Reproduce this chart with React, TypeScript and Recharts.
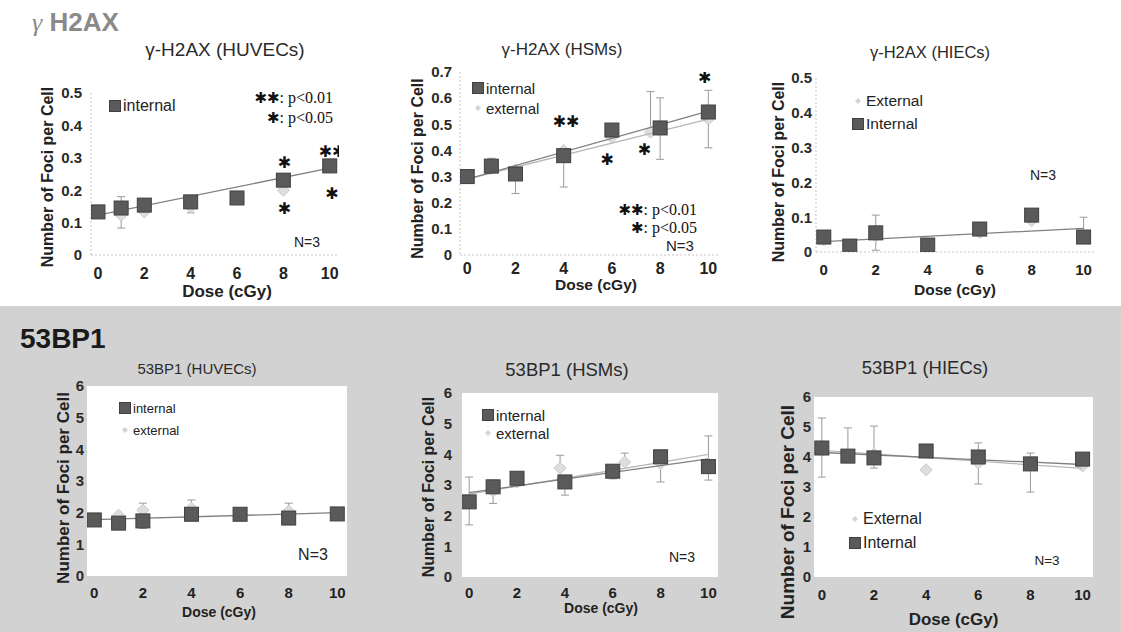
import React from 'react';
import { ComposedChart, Scatter, XAxis, YAxis, ErrorBar, Legend, CartesianGrid } from 'recharts';

const FONT = '"Liberation Sans", Arial, sans-serif';
const SERIF = '"Liberation Serif", "Times New Roman", serif';

type Err = [number, number] | null;
type Row = { dose: number; value: number; err?: [number, number]; mark?: string };

// shared x values
const doses = [0, 1, 2, 4, 6, 8, 10];
const doseTicks = [0, 2, 4, 6, 8, 10];
const trendDoses = [0, 10];
const doseDomain: [number, number] = [-0.3, 10.4];

// γ-H2AX HUVECs
const h2axHuvecInternal = [0.133, 0.145, 0.154, 0.164, 0.176, 0.231, 0.275];
const h2axHuvecExternal = [0.13, 0.123, 0.133, 0.148, 0.175, 0.2, 0.27];
const h2axHuvecInternalErr: Err[] = [null, [0.062, 0.035], null, [0.034, 0.015], null, null, null];
const h2axHuvecTrend = [0.123, 0.268];
const h2axHuvecStarDose = [8.05, 8.05, 10.1, 10.1];
const h2axHuvecStarY = [0.284, 0.145, 0.318, 0.19];
const h2axHuvecStarMark = ['✱', '✱', '✱✱', '✱'];

// γ-H2AX HSMs
const h2axHsmInternal = [0.3, 0.34, 0.31, 0.38, 0.478, 0.486, 0.547];
const h2axHsmExternalDose = [0, 1, 2, 4, 6, 7.6, 10];
const h2axHsmExternal = [0.3, 0.33, 0.325, 0.4, 0.45, 0.47, 0.52];
const h2axHsmInternalErr: Err[] = [null, [0, 0.03], [0.075, 0], [0.12, 0], null, [0.12, 0.115], [0.137, 0.083]];
const h2axHsmExternalErr: Err[] = [null, null, null, null, null, [0, 0.155], null];
const h2axHsmTrendInt = [0.29, 0.55];
const h2axHsmTrendExt = [0.29, 0.52];
const h2axHsmStarDose = [4.1, 5.8, 7.35, 9.85];
const h2axHsmStarY = [0.51, 0.367, 0.405, 0.68];
const h2axHsmStarMark = ['✱✱', '✱', '✱', '✱'];

// γ-H2AX HIECs
const h2axHiecInternal = [0.043, 0.017, 0.055, 0.02, 0.066, 0.106, 0.043];
const h2axHiecExternal = [0.035, 0.02, 0.045, 0.02, 0.055, 0.09, 0.04];
const h2axHiecInternalErr: Err[] = [null, null, [0.05, 0.051], null, null, null, [0, 0.057]];
const h2axHiecTrend = [0.03, 0.068];

// 53BP1 HUVECs
const bp1HuvecInternal = [1.77, 1.67, 1.74, 1.95, 1.95, 1.83, 1.96];
const bp1HuvecExternal = [1.8, 1.92, 2.08, 2.14, 1.95, 2.05, 1.96];
const bp1HuvecInternalErr: Err[] = [null, null, [0.24, 0.56], null, null, null, null];
const bp1HuvecExternalErr: Err[] = [null, null, null, [0, 0.26], null, [0, 0.25], null];
const bp1HuvecTrend = [1.78, 2.0];

// 53BP1 HSMs
const bp1HsmInternal = [2.45, 2.94, 3.22, 3.1, 3.45, 3.92, 3.6];
const bp1HsmExternalDose = [0, 1, 2, 3.8, 6.5, 8, 10];
const bp1HsmExternal = [2.5, 2.8, 3.1, 3.55, 3.75, 3.7, 3.7];
const bp1HsmInternalErr: Err[] = [[0.75, 0.81], [0.54, 0.22], null, [0.43, 0], [0.25, 0], [0.82, 0], [0.44, 1.0]];
const bp1HsmExternalErr: Err[] = [null, null, null, [0, 0.42], [0, 0.29], null, null];
const bp1HsmTrendInt = [2.75, 3.85];
const bp1HsmTrendExt = [2.7, 4.0];

// 53BP1 HIECs
const bp1HiecInternal = [4.3, 4.03, 3.97, 4.2, 4.0, 3.77, 3.93];
const bp1HiecExternal = [4.2, 4.05, 4.1, 3.57, 3.8, 3.8, 3.7];
const bp1HiecInternalErr: Err[] = [[0.97, 1.0], [0, 0.94], [0.34, 1.06], null, [0.9, 0.47], [0.94, 0.36], null];
const bp1HiecTrendInt = [4.15, 3.75];
const bp1HiecTrendExt = [4.22, 3.62];

const h2axTicks05 = [0, 0.1, 0.2, 0.3, 0.4, 0.5];
const h2axTicks07 = [0, 0.1, 0.2, 0.3, 0.4, 0.5, 0.6, 0.7];
const bp1Ticks = [0, 1, 2, 3, 4, 5, 6];

const toRows = (xs: number[], ys: number[], errs?: Err[], marks?: string[]): Row[] =>
  xs.map((dose, i) => ({
    dose,
    value: ys[i],
    err: errs && errs[i] ? (errs[i] as [number, number]) : undefined,
    mark: marks ? marks[i] : undefined,
  }));

type Spec = {
  title: string;
  titleX: number;
  titleY: number;
  titleSize: number;
  plot: { left: number; top: number; width: number; height: number };
  yMax: number;
  yTicks: number[];
  internal: Row[];
  external: Row[];
  trendInt: Row[];
  trendExt?: Row[];
  stars?: Row[];
  legend: { items: string[]; x: number; y: number; row: number; size: number };
  shaded?: boolean;
  yTickGap: number;
  yTickSize: number;
  yLabelDx: number;
  yLabelDy: number;
  yLabelSize: number;
  xTickSize: number;
  xTickDy: number;
  xLabelOffset: number;
  xLabelDx: number;
  xLabelSize: number;
  nText: { x: number; y: number; size: number };
  pLegend?: { right: number; y1: number; y2: number };
};

const SquareMark = (p: any) =>
  p.cx == null ? <g /> : (
    <rect x={p.cx - 7} y={p.cy - 7} width={14} height={14} fill="#5a5a5a" stroke="#404040" strokeWidth={1} />
  );

const DiamondMark = (p: any) =>
  p.cx == null ? <g /> : (
    <path
      d={`M${p.cx},${p.cy - 6}L${p.cx + 6},${p.cy}L${p.cx},${p.cy + 6}L${p.cx - 6},${p.cy}Z`}
      fill="#dedede"
      stroke="#c8c8c8"
      strokeWidth={1}
    />
  );

const StarMark = (p: any) =>
  p.cx == null ? <g /> : (
    <text
      x={p.cx}
      y={p.cy}
      textAnchor="middle"
      dominantBaseline="central"
      fontSize={16}
      fill="#111"
      fontFamily='"DejaVu Sans", sans-serif'
    >
      {p.payload.mark}
    </text>
  );

const NoMark = () => <g />;

function LegendBlock({ items, row, size }: { items: string[]; row: number; size: number }) {
  return (
    <div style={{ fontFamily: FONT, fontSize: size, color: '#222', lineHeight: 1 }}>
      {items.map((label) => (
        <div key={label} style={{ height: row, display: 'flex', alignItems: 'center' }}>
          <svg width={12} height={12} style={{ marginRight: 2 }}>
            {label.toLowerCase() === 'internal' ? (
              <rect x={0.5} y={0.5} width={11} height={11} fill="#5a5a5a" stroke="#404040" />
            ) : (
              <path d="M6,3L9,6L6,9L3,6Z" fill="#d4d4d4" />
            )}
          </svg>
          <span>{label}</span>
        </div>
      ))}
    </div>
  );
}

function Panel({ s }: { s: Spec }) {
  const boxLeft = s.plot.left - 70;
  const boxTop = s.plot.top - 15;
  const axisLine = s.shaded ? false : { stroke: '#c4c4c4', strokeDasharray: '2 2' };
  return (
    <div style={{ position: 'absolute', left: boxLeft, top: boxTop }}>
      <ComposedChart
        width={s.plot.width + 90}
        height={s.plot.height + 70}
        margin={{ top: 15, right: 20, bottom: 0, left: 40 }}
      >
        {s.shaded && <CartesianGrid horizontal={false} vertical={false} fill="#ffffff" stroke="none" />}
        <XAxis
          type="number"
          dataKey="dose"
          domain={doseDomain}
          ticks={doseTicks}
          allowDataOverflow
          tickLine={false}
          axisLine={axisLine}
          height={55}
          tick={{ fill: '#222', fontSize: s.xTickSize, fontWeight: 'bold', fontFamily: FONT, dy: s.xTickDy }}
          label={{
            value: 'Dose (cGy)',
            position: 'insideBottom',
            offset: s.xLabelOffset,
            dx: s.xLabelDx,
            style: { fill: '#222', fontSize: s.xLabelSize, fontWeight: 'bold', fontFamily: FONT },
          }}
        />
        <YAxis
          type="number"
          dataKey="value"
          domain={[0, s.yMax]}
          ticks={s.yTicks}
          allowDataOverflow
          tickLine={false}
          axisLine={axisLine}
          width={30}
          tickSize={s.yTickGap - 2}
          tick={{ fill: '#2a2a2a', fontSize: s.yTickSize, fontWeight: 'bold', fontFamily: FONT }}
          label={{
            value: 'Number of Foci per Cell',
            angle: -90,
            position: 'insideLeft',
            offset: s.yLabelDx + 30,
            dy: s.yLabelDy,
            style: { textAnchor: 'middle', fill: '#222', fontSize: s.yLabelSize, fontWeight: 'bold', fontFamily: FONT },
          }}
        />
        <Scatter name="external" data={s.external} shape={DiamondMark} isAnimationActive={false} legendType="none">
          <ErrorBar dataKey="err" direction="y" width={4} stroke="#9a9a9a" strokeWidth={1} />
        </Scatter>
        {s.trendExt && (
          <Scatter
            data={s.trendExt}
            line={{ stroke: '#b8b8b8', strokeWidth: 1.3 }}
            shape={NoMark}
            isAnimationActive={false}
            legendType="none"
          />
        )}
        <Scatter
          data={s.trendInt}
          line={{ stroke: '#808080', strokeWidth: 1.3 }}
          shape={NoMark}
          isAnimationActive={false}
          legendType="none"
        />
        <Scatter name="internal" data={s.internal} shape={SquareMark} isAnimationActive={false} legendType="none">
          <ErrorBar dataKey="err" direction="y" width={4} stroke="#9a9a9a" strokeWidth={1} />
        </Scatter>
        {s.stars && (
          <Scatter data={s.stars} shape={StarMark} isAnimationActive={false} legendType="none" />
        )}
        <Legend
          layout="vertical"
          align="center"
          verticalAlign="middle"
          content={() => <LegendBlock items={s.legend.items} row={s.legend.row} size={s.legend.size} />}
          wrapperStyle={{
            left: s.legend.x - 6 - boxLeft,
            top: s.legend.y - s.legend.row / 2 - boxTop,
            width: 'auto',
            height: 'auto',
          }}
        />
      </ComposedChart>
    </div>
  );
}

const specs: Spec[] = [
  {
    title: 'γ-H2AX (HUVECs)', titleX: 225, titleY: 50, titleSize: 19,
    plot: { left: 91, top: 93, width: 248, height: 162 },
    yMax: 0.5, yTicks: h2axTicks05,
    internal: toRows(doses, h2axHuvecInternal, h2axHuvecInternalErr),
    external: toRows(doses, h2axHuvecExternal),
    trendInt: toRows(trendDoses, h2axHuvecTrend),
    stars: toRows(h2axHuvecStarDose, h2axHuvecStarY, undefined, h2axHuvecStarMark),
    legend: { items: ['internal'], x: 115, y: 106, row: 20, size: 16 },
    yTickGap: 9, yTickSize: 15, yLabelDx: -44, yLabelDy: 3, yLabelSize: 16,
    xTickSize: 16, xTickDy: 4.5, xLabelOffset: 13, xLabelDx: 12, xLabelSize: 17,
    nText: { x: 307, y: 242, size: 14 },
    pLegend: { right: 333, y1: 98, y2: 118 },
  },
  {
    title: 'γ-H2AX (HSMs)', titleX: 562, titleY: 50, titleSize: 17,
    plot: { left: 460, top: 72, width: 258, height: 183 },
    yMax: 0.7, yTicks: h2axTicks07,
    internal: toRows(doses, h2axHsmInternal, h2axHsmInternalErr),
    external: toRows(h2axHsmExternalDose, h2axHsmExternal, h2axHsmExternalErr),
    trendInt: toRows(trendDoses, h2axHsmTrendInt),
    trendExt: toRows(trendDoses, h2axHsmTrendExt),
    stars: toRows(h2axHsmStarDose, h2axHsmStarY, undefined, h2axHsmStarMark),
    legend: { items: ['internal', 'external'], x: 478, y: 88, row: 20, size: 15 },
    yTickGap: 8, yTickSize: 15, yLabelDx: -43, yLabelDy: 5, yLabelSize: 16,
    xTickSize: 16, xTickDy: 0, xLabelOffset: 20, xLabelDx: 7, xLabelSize: 15.5,
    nText: { x: 680, y: 245, size: 15 },
    pLegend: { right: 697, y1: 210, y2: 228 },
  },
  {
    title: 'γ-H2AX (HIECs)', titleX: 930, titleY: 52, titleSize: 16.5,
    plot: { left: 816, top: 78, width: 278, height: 174 },
    yMax: 0.5, yTicks: h2axTicks05,
    internal: toRows(doses, h2axHiecInternal, h2axHiecInternalErr),
    external: toRows(doses, h2axHiecExternal),
    trendInt: toRows(trendDoses, h2axHiecTrend),
    legend: { items: ['External', 'Internal'], x: 858, y: 101, row: 23, size: 15.5 },
    yTickGap: 4, yTickSize: 15, yLabelDx: -38, yLabelDy: 7, yLabelSize: 16,
    xTickSize: 15, xTickDy: 4, xLabelOffset: 12, xLabelDx: 0, xLabelSize: 15.5,
    nText: { x: 1043, y: 175, size: 14 },
  },
  {
    title: '53BP1 (HUVECs)', titleX: 197, titleY: 368, titleSize: 15,
    plot: { left: 87, top: 386, width: 260, height: 190 },
    yMax: 6, yTicks: bp1Ticks,
    internal: toRows(doses, bp1HuvecInternal, bp1HuvecInternalErr),
    external: toRows(doses, bp1HuvecExternal, bp1HuvecExternalErr),
    trendInt: toRows(trendDoses, bp1HuvecTrend),
    legend: { items: ['internal', 'external'], x: 125, y: 408, row: 22, size: 13 },
    shaded: true,
    yTickGap: 3, yTickSize: 15, yLabelDx: -24, yLabelDy: 7, yLabelSize: 17,
    xTickSize: 15, xTickDy: 3.5, xLabelOffset: 14, xLabelDx: 2, xLabelSize: 14,
    nText: { x: 313, y: 555, size: 16 },
  },
  {
    title: '53BP1 (HSMs)', titleX: 567, titleY: 370, titleSize: 18.5,
    plot: { left: 462, top: 393, width: 256, height: 184 },
    yMax: 6, yTicks: bp1Ticks,
    internal: toRows(doses, bp1HsmInternal, bp1HsmInternalErr),
    external: toRows(bp1HsmExternalDose, bp1HsmExternal, bp1HsmExternalErr),
    trendInt: toRows(trendDoses, bp1HsmTrendInt),
    trendExt: toRows(trendDoses, bp1HsmTrendExt),
    legend: { items: ['internal', 'external'], x: 488, y: 415, row: 18, size: 15 },
    shaded: true,
    yTickGap: 10, yTickSize: 15, yLabelDx: -34, yLabelDy: 2, yLabelSize: 16,
    xTickSize: 15, xTickDy: 2.5, xLabelOffset: 19, xLabelDx: 11, xLabelSize: 14,
    nText: { x: 682, y: 557, size: 14 },
  },
  {
    title: '53BP1 (HIECs)', titleX: 925, titleY: 368, titleSize: 18.5,
    plot: { left: 814, top: 397, width: 279, height: 180 },
    yMax: 6, yTicks: bp1Ticks,
    internal: toRows(doses, bp1HiecInternal, bp1HiecInternalErr),
    external: toRows(doses, bp1HiecExternal),
    trendInt: toRows(trendDoses, bp1HiecTrendInt),
    trendExt: toRows(trendDoses, bp1HiecTrendExt),
    legend: { items: ['External', 'Internal'], x: 855, y: 519, row: 24, size: 16 },
    shaded: true,
    yTickGap: 3, yTickSize: 15, yLabelDx: -27, yLabelDy: 25, yLabelSize: 19,
    xTickSize: 15, xTickDy: 4.5, xLabelOffset: 7, xLabelDx: 0, xLabelSize: 17,
    nText: { x: 1047, y: 560, size: 13.5 },
  },
];

const centered = (x: number, y: number): React.CSSProperties => ({
  position: 'absolute',
  left: x,
  top: y,
  transform: 'translate(-50%, -50%)',
  whiteSpace: 'nowrap',
});

const rightAligned = (x: number, y: number): React.CSSProperties => ({
  position: 'absolute',
  left: x,
  top: y,
  transform: 'translate(-100%, -50%)',
  whiteSpace: 'nowrap',
});

function PLegend({ right, y1, y2 }: { right: number; y1: number; y2: number }) {
  const star: React.CSSProperties = { fontFamily: '"DejaVu Sans", sans-serif', fontSize: 15, color: '#111' };
  const txt: React.CSSProperties = { fontFamily: SERIF, fontSize: 16, color: '#111' };
  return (
    <>
      <div style={rightAligned(right, y1)}>
        <span style={star}>✱✱</span>
        <span style={txt}>: p&lt;0.01</span>
      </div>
      <div style={rightAligned(right, y2)}>
        <span style={star}>✱</span>
        <span style={txt}>: p&lt;0.05</span>
      </div>
    </>
  );
}

export default function App() {
  return (
    <div
      style={{
        position: 'absolute',
        left: 0,
        top: 0,
        width: 1121,
        height: 632,
        background: '#ffffff',
        overflow: 'hidden',
        fontFamily: FONT,
      }}
    >
      <div style={{ position: 'absolute', left: 0, top: 306, width: 1121, height: 326, background: '#d2d2d2' }} />
      <div style={{ position: 'absolute', left: 32, top: 22, transform: 'translateY(-50%)', color: '#8a8a8a', fontSize: 26, whiteSpace: 'nowrap' }}>
        <span style={{ fontStyle: 'italic', fontFamily: SERIF }}>γ</span>
        <span style={{ fontWeight: 'bold' }}> H2AX</span>
      </div>
      <div style={{ position: 'absolute', left: 20, top: 339, transform: 'translateY(-50%)', color: '#1a1a1a', fontSize: 28, fontWeight: 'bold' }}>
        53BP1
      </div>
      {specs.map((s) => (
        <React.Fragment key={s.title}>
          <Panel s={s} />
          <div style={{ ...centered(s.titleX, s.titleY), fontSize: s.titleSize, color: '#2a2a2a' }}>{s.title}</div>
          <div style={{ ...centered(s.nText.x, s.nText.y), fontSize: s.nText.size, color: '#222' }}>N=3</div>
          {s.pLegend && <PLegend {...s.pLegend} />}
        </React.Fragment>
      ))}
    </div>
  );
}
